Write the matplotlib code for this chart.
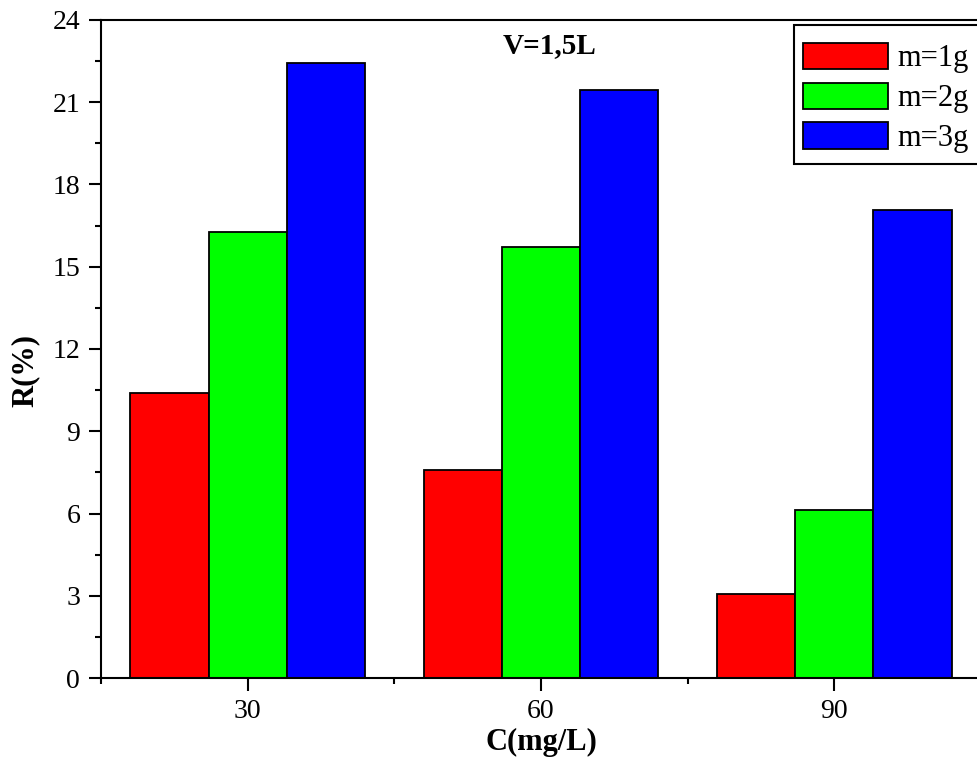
import matplotlib
matplotlib.use("Agg")
import matplotlib.pyplot as plt
from matplotlib.patches import Rectangle
from matplotlib.ticker import MultipleLocator, FixedLocator
import numpy as np

# Removal efficiency R(%) versus initial concentration for three adsorbent masses
concentrations = ["30", "60", "90"]
series_labels = ["m=1g", "m=2g", "m=3g"]
r_m1 = [10.40, 7.59, 3.05]
r_m2 = [16.25, 15.71, 6.14]
r_m3 = [22.44, 21.46, 17.07]
colors = ["#FF0000", "#00FF00", "#0000FF"]

plt.rcParams["font.family"] = ["Liberation Serif", "DejaVu Serif"]

W, H = 978, 765
fig = plt.figure(figsize=(W / 100, H / 100), dpi=100)
# axes spans x pixels 101..981 (right spine just past the edge), y pixels 20..678
ax = fig.add_axes([101 / W, 1 - 678 / H, 880 / W, 658 / H])

x = np.arange(len(concentrations))
width = 0.8 / 3
for i, (vals, lab, col) in enumerate(zip([r_m1, r_m2, r_m3], series_labels, colors)):
    ax.bar(x + (i - 1) * width, vals, width, color=col, edgecolor="black",
           linewidth=1.3, label=lab, zorder=2)

ax.set_xlim(-0.5, 2.5)
ax.set_ylim(0, 24)
ax.set_xticks(x)
ax.set_xticklabels(concentrations)
ax.xaxis.set_minor_locator(FixedLocator([-0.5, 0.5, 1.5, 2.5]))
ax.yaxis.set_major_locator(MultipleLocator(3))
ax.yaxis.set_minor_locator(MultipleLocator(1.5))

for s in ax.spines.values():
    s.set_linewidth(1.5)
ax.tick_params(axis="both", which="major", direction="out", length=9, width=1.5,
               labelsize=20, pad=6)
ax.tick_params(axis="both", which="minor", direction="out", length=4.5, width=1.5)

ax.set_xlabel("C(mg/L)", fontsize=22, fontweight="bold", labelpad=3)
ax.set_ylabel("R(%)", fontsize=22, fontweight="bold")
ax.yaxis.set_label_coords(-0.07, 0.467)

ax.text(0.4568, 0.95, "V=1,5L", transform=ax.transAxes, fontsize=21,
        fontweight="bold", ha="left", va="baseline")

# legend entries without their own frame; a box is drawn around them separately
leg = ax.legend(loc="upper left", bbox_to_anchor=(793.7 / W, 1 - 33.5 / H),
                bbox_transform=fig.transFigure, fontsize=22, frameon=False,
                handlelength=2.8, handleheight=0.95, handletextpad=0.3,
                borderpad=0.3, labelspacing=0.3, borderaxespad=0)
leg.set_zorder(6)
box = Rectangle((793.7 / W, 1 - 164.3 / H), 200 / W, 139 / H,
                transform=fig.transFigure, facecolor="white", edgecolor="black",
                linewidth=1.5, zorder=5, clip_on=False)
ax.add_patch(box)

fig.savefig("out.png", dpi=100)
